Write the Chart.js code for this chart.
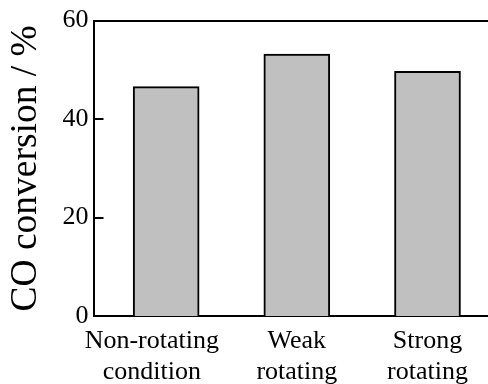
<!DOCTYPE html>
<html>
<head>
<meta charset="utf-8">
<script src="https://cdn.jsdelivr.net/npm/chart.js@4"></script>
<style>
  html, body { margin: 0; padding: 0; background: #fff; overflow: hidden; }
  #wrap { width: 488px; height: 384px; overflow: hidden; }
</style>
</head>
<body>
<div id="wrap"><canvas id="myChart" width="488" height="400"></canvas></div>
<script>
/* ---------- DATA ---------- */
const categories = [['Non-rotating', 'condition'], ['Weak', 'rotating'], ['Strong', 'rotating']];
const positions = [0, 1, 2];
const labelPositions = [-0.11, 1, 2];
const conversion = [46.6, 53.2, 49.7];
const yTicks = [0, 20, 40, 60];

const serif = "'Liberation Serif', 'Times New Roman', serif";

/* ---------- INWARD TICK MARKS ---------- */
const innerTicks = {
    id: 'innerTicks',
    afterDraw(chart) {
        const y = chart.scales.y;
        const c = chart.ctx;
        const left = chart.chartArea.left;
        c.save();
        c.strokeStyle = '#000';
        c.lineWidth = 2;
        yTicks.forEach(v => {
            const py = Math.round(y.getPixelForValue(v));
            c.beginPath();
            c.moveTo(left, py);
            c.lineTo(left + 10, py);
            c.stroke();
        });
        c.restore();
    }
};

/* ---------- CHART ---------- */
const ctx = document.getElementById('myChart').getContext('2d');

const xRange = { min: -0.556, max: 2.463 };

new Chart(ctx, {
    type: 'bar',
    data: {
        datasets: [{
            label: 'CO conversion',
            data: positions.map((p, i) => ({ x: p, y: conversion[i] })),
            backgroundColor: '#c0c0c0',
            borderColor: '#000',
            borderWidth: 2,
            barThickness: 66
        }]
    },
    options: {
        responsive: false,
        animation: false,
        layout: { padding: { left: 0, right: 0, top: 1, bottom: 3.5 } },
        plugins: { legend: { display: false }, tooltip: { enabled: false } },
        scales: {
            x: {
                type: 'linear',
                position: 'bottom',
                offset: false,
                min: xRange.min,
                max: xRange.max,
                afterBuildTicks: s => { s.ticks = labelPositions.map(v => ({ value: v })); },
                grid: { display: false, drawTicks: false, offset: false },
                border: { display: true, color: '#000', width: 2 },
                ticks: {
                    color: '#000',
                    font: { family: serif, size: 26 },
                    padding: 9,
                    maxRotation: 0,
                    autoSkip: false,
                    callback: (v, i) => categories[i]
                }
            },
            xTop: {
                type: 'linear',
                position: 'top',
                offset: false,
                min: xRange.min,
                max: xRange.max,
                grid: { display: false, drawTicks: false },
                border: { display: true, color: '#000', width: 2 },
                ticks: { display: false }
            },
            y: {
                min: 0,
                max: 60,
                afterBuildTicks: s => { s.ticks = yTicks.map(v => ({ value: v })); },
                grid: { display: false, drawTicks: false },
                border: { display: true, color: '#000', width: 2 },
                ticks: {
                    color: '#000',
                    font: { family: serif, size: 26 },
                    padding: 5
                },
                title: {
                    display: true,
                    text: 'CO conversion / %',
                    color: '#000',
                    font: { family: serif, size: 37.5 },
                    padding: { top: 4, bottom: 8.5 }
                }
            }
        }
    },
    plugins: [innerTicks]
});
</script>
</body>
</html>
